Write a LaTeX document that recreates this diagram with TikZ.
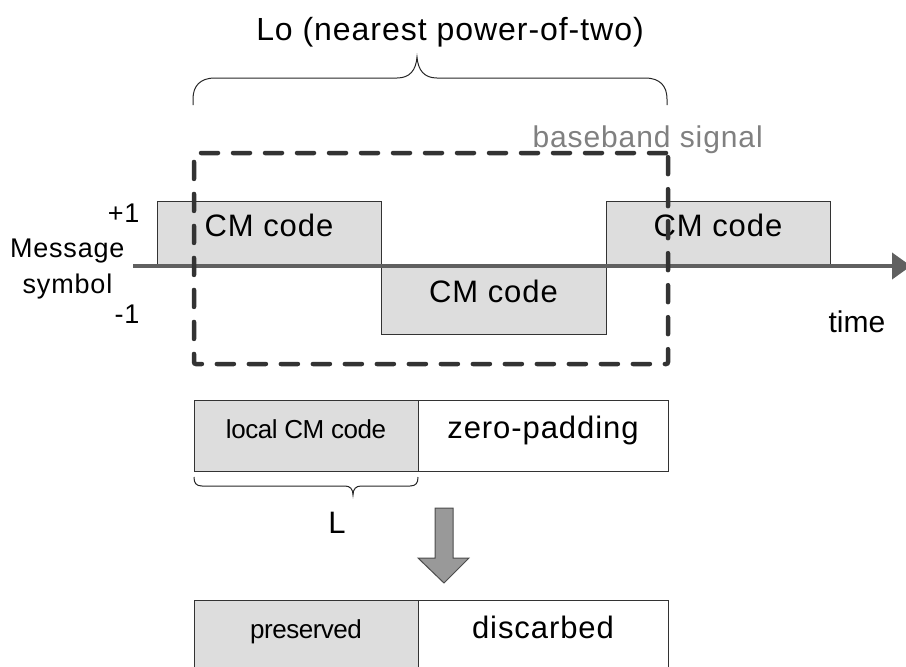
\documentclass[tikz,border=0pt]{standalone}
\usepackage{fontspec}
\setmainfont{Liberation Sans}
\newfontfamily\spaced{Liberation Sans}[LetterSpace=3]
\newfontfamily\tight{Liberation Sans}[LetterSpace=-1.8]
\usetikzlibrary{arrows.meta}

\definecolor{codegray}{RGB}{221,221,221}
\definecolor{axisgray}{RGB}{96,96,96}
\definecolor{dashgray}{RGB}{51,51,51}
\definecolor{labelgray}{RGB}{128,128,128}
\definecolor{blockgray}{RGB}{153,153,153}

\tikzset{
  big/.style={font=\spaced\fontsize{31}{36}\selectfont},
  small/.style={font=\tight\fontsize{26}{30}\selectfont},
  side/.style={font=\spaced\fontsize{27}{32}\selectfont},
  cell/.style={draw=black!80, line width=0.9pt, inner sep=0pt,
    text height=0.75em, text depth=0.2em},
  codebox/.style={cell, fill=codegray},
  padbox/.style={cell, fill=white},
  bracket/.style={draw=black!85, line width=1pt},
  sigframe/.style={draw=dashgray, line width=4.5pt, line cap=round,
    dash pattern=on 17pt off 15pt, rounded corners=2pt, inner sep=0pt},
  timeaxis/.style={draw=axisgray, line width=4pt,
    -{Triangle[length=19pt,width=26pt]}},
  blockarrow/.style={fill=blockgray, draw=black!70, line width=1pt},
}

\begin{document}
\begin{tikzpicture}[x=1pt,y=-1pt]
\useasboundingbox (0,0) rectangle (906,667);

% title and its brace
\node[big, font=\spaced\fontsize{32}{38}\selectfont, anchor=base] (title) at (450,40)
  {Lo (nearest power-of-two)};
\draw[bracket] (193,105) -- (193,99) .. controls (193,86) and (200,78) .. (215,78)
  -- (397,78) .. controls (410,78) and (416,70) .. (417,57)
  .. controls (418,70) and (424,78) .. (437,78)
  -- (645,78) .. controls (660,78) and (667,86) .. (667,99) -- (667,105);

% message symbol blocks
\node[codebox, big, minimum width=224pt, minimum height=65pt] (c1) at (269,233.5) {CM code};
\node[codebox, big, minimum width=225pt, minimum height=68pt] (c2) at (493.5,300) {CM code};
\node[codebox, big, minimum width=224pt, minimum height=65pt] (c3) at (718,233.5) {CM code};

% time axis
\coordinate (axs) at (133,266);
\coordinate (axe) at (911,266);
\draw[timeaxis] (axs) -- (axe);
\node[font=\fontsize{30}{36}\selectfont, anchor=base west] (time) at (825,332) {time};

% axis labels
\node[side, anchor=base east] (plus) at (143,222) {+1};
\node[side, anchor=base east] (msg) at (128,257) {Message};
\node[side, anchor=base] (sym) at (67.5,293) {symbol};
\node[side, anchor=base east] (minus) at (143,323) {-1};

% baseband signal window
\node[sigframe, minimum width=474pt, minimum height=211pt] (win) at (431,258.5) {};
\node[font=\spaced\fontsize{30}{36}\selectfont, text=labelgray, anchor=base west]
  (bbl) at (529,147) {baseband signal};

% padded code
\node[codebox, small, minimum width=224pt, minimum height=71pt] (loc) at (306,435.5) {local CM code};
\node[padbox, big, minimum width=250pt, minimum height=71pt] (zp) at (543,435.5) {zero-padding};

% brace for L
\draw[bracket] (194,477) .. controls (194,483) and (196,486) .. (202,486)
  -- (345,486) .. controls (350,486) and (353,489) .. (353,495)
  .. controls (353,489) and (356,486) .. (361,486)
  -- (410,486) .. controls (416,486) and (418,483) .. (418,477);
\node[big, anchor=base] (ll) at (337,533) {L};

% block arrow
\draw[blockarrow] (435,508) -- (453,508) -- (453,558) -- (469,558) -- (444,583)
  -- (418,558) -- (435,558) -- cycle;

% result
\node[codebox, small, minimum width=224pt, minimum height=71pt] (pre) at (306,635.5) {preserved};
\node[padbox, big, minimum width=250pt, minimum height=71pt] (dis) at (543,635.5) {discarbed};
\end{tikzpicture}
\end{document}
